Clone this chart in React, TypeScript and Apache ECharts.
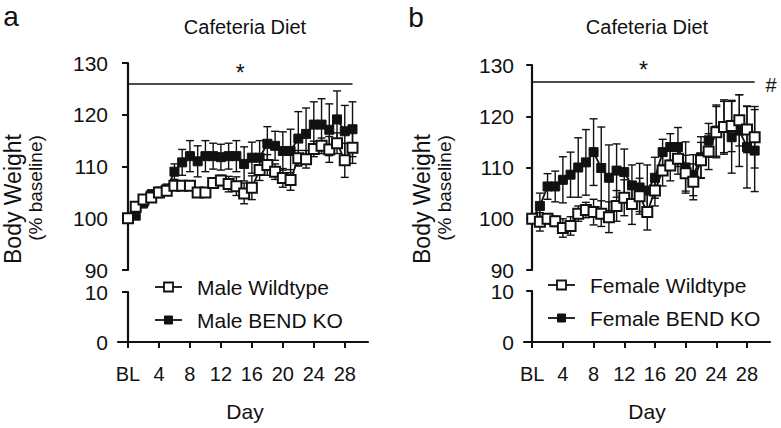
import React, { useEffect, useRef } from "react";
import * as echarts from "echarts";

const DAYS = [0, 1, 2, 3, 4, 5, 6, 7, 8, 9, 10, 11, 12, 13, 14, 15, 16, 17, 18, 19, 20, 21, 22, 23, 24, 25, 26, 27, 28, 29];
const X_TICKS = [0, 4, 8, 12, 16, 20, 24, 28];

const MALE_WT = [100, 102.2, 103.6, 104, 105, 105.3, 106.3, 106.3, 106.3, 105, 105, 106.8, 107.3, 106.6, 106.2, 104.8, 105.9, 109.3, 110.3, 109, 107.8, 107.4, 111.6, 111.4, 113.4, 114, 113.3, 114.5, 111.2, 113.6];
const MALE_WT_ERR = [0, 0.5, 0.8, 0.8, 0.8, 0.6, 0.5, 0.5, 0.5, 0.8, 0.5, 1, 1, 1.5, 1.8, 2, 2.3, 2, 2, 1.5, 1.8, 2, 1.5, 1.7, 1.5, 1.5, 2.5, 2, 3.3, 3];
const MALE_KO = [100, 100.5, 103, 104.5, 105, 105.6, 109, 110.8, 112, 111, 112, 112, 111.8, 112, 112, 110.5, 111.7, 111.7, 114.4, 114, 113, 113, 115.4, 116.3, 118.1, 118.1, 117.1, 119.1, 116.8, 117.2];
const MALE_KO_ERR = [0, 0.5, 1, 1, 1, 1, 1.5, 2.5, 3, 3, 3, 2.5, 2.5, 2.5, 3, 3.3, 3, 3.3, 3.3, 2.8, 3.7, 4.2, 5.2, 5, 4.4, 5, 5, 5.5, 5, 5.3];

const FEMALE_WT = [100, 99.4, 100, 99.5, 98.2, 98.6, 101, 101.7, 101.3, 101, 100.3, 102.5, 104.1, 102.9, 104.4, 101.3, 105.5, 109.4, 110.4, 111.7, 108.9, 107.2, 111.4, 113.1, 116.9, 117.9, 118.1, 119.2, 117.4, 115.9];
const FEMALE_WT_ERR = [0, 1.8, 1, 1, 1.8, 1.8, 1.5, 1.5, 2.5, 2.5, 3, 3, 3.5, 4, 3.5, 3.5, 3, 3, 3, 3, 3.5, 3.5, 3.5, 3.5, 5, 5, 5, 5, 4.5, 6];
const FEMALE_KO = [100, 102.5, 106.3, 106.3, 107.6, 108.6, 110, 111, 113, 109.9, 108, 109.4, 109.1, 106.5, 106.1, 105.5, 108, 113, 114, 114, 110, 108.5, 112, 115.3, 117.2, 117.9, 115.9, 117.2, 114, 113.3];
const FEMALE_KO_ERR = [0, 2.5, 2.5, 3, 4.5, 4.4, 5.8, 6.4, 6.5, 8, 6.4, 5.2, 4.5, 4, 4.7, 5, 4, 2.5, 2.6, 3.8, 5, 4, 4, 3.3, 5, 5.3, 7, 7, 8, 8];

const SIG_LEVEL_A = 125.9;
const SIG_LEVEL_B = 126.8;
const SIG_RANGE = [0, 29];

const FONT = "'Liberation Sans', Arial, Helvetica, sans-serif";
const INK = "#111";

function errData(means: number[], errs: number[]) {
  return DAYS.map((d, i) => [d, means[i] - errs[i], means[i] + errs[i], errs[i]]);
}

function lineData(means: number[]) {
  return DAYS.map((d, i) => [d, means[i]]);
}

const renderErr = (params: any, api: any) => {
  const err = api.value(3);
  if (!err) return null;
  const x = api.value(0);
  const lo = api.coord([x, api.value(1)]);
  const hi = api.coord([x, api.value(2)]);
  const w = 4;
  const style = { stroke: INK, lineWidth: 1.4 };
  return {
    type: "group",
    children: [
      { type: "line", shape: { x1: hi[0], y1: hi[1], x2: lo[0], y2: lo[1] }, style },
      { type: "line", shape: { x1: hi[0] - w, y1: hi[1], x2: hi[0] + w, y2: hi[1] }, style },
      { type: "line", shape: { x1: lo[0] - w, y1: lo[1], x2: lo[0] + w, y2: lo[1] }, style },
    ],
  };
};

export default function App() {
  const ref = useRef<HTMLDivElement>(null);
  useEffect(() => {
    if (!ref.current) return;
    const chart = echarts.init(ref.current, null, { renderer: "svg" });

    const panels = [
      { left: 118, right: 368, min: -1.29, max: 31, topU: 63, topL: 292, sig: SIG_LEVEL_A },
      { left: 524, right: 770, min: -1.07, max: 31, topU: 65, topL: 291, sig: SIG_LEVEL_B },
    ];
    const grids: any[] = [];
    const xAxes: any[] = [];
    const yAxes: any[] = [];
    panels.forEach((p) => {
      grids.push({ left: p.left, width: p.right - p.left, top: p.topU, height: 270 - p.topU });
      grids.push({ left: p.left, width: p.right - p.left, top: p.topL, height: 342 - p.topL });
    });
    const axisLine = { show: true, lineStyle: { color: INK, width: 2.2 } };
    const axisTick = { show: true, length: 6, lineStyle: { color: INK, width: 2 } };
    panels.forEach((p, k) => {
      xAxes.push({
        type: "value", gridIndex: 2 * k, min: p.min, max: p.max, show: false,
      });
      xAxes.push({
        type: "value", gridIndex: 2 * k + 1, min: p.min, max: p.max,
        axisLine, splitLine: { show: false },
        axisTick: { ...axisTick, customValues: X_TICKS },
        axisLabel: {
          customValues: X_TICKS, margin: 22, color: INK, fontSize: 20, fontFamily: FONT,
          formatter: (v: number) => (v === 0 ? "BL" : String(v)),
        },
      });
      yAxes.push({
        type: "value", gridIndex: 2 * k, min: 90, max: 130, interval: 10,
        axisLine, axisTick, splitLine: { show: false },
        axisLabel: { margin: 10, color: INK, fontSize: 21, fontFamily: FONT },
      });
      yAxes.push({
        type: "value", gridIndex: 2 * k + 1, min: 0, max: 10, interval: 10,
        axisLine, axisTick, splitLine: { show: false },
        axisLabel: { margin: 10, color: INK, fontSize: 21, fontFamily: FONT },
      });
    });

    const groups = [
      { panel: 0, ko: MALE_KO, koErr: MALE_KO_ERR, wt: MALE_WT, wtErr: MALE_WT_ERR, koName: "Male BEND KO", wtName: "Male Wildtype" },
      { panel: 1, ko: FEMALE_KO, koErr: FEMALE_KO_ERR, wt: FEMALE_WT, wtErr: FEMALE_WT_ERR, koName: "Female BEND KO", wtName: "Female Wildtype" },
    ];
    const series: any[] = [];
    groups.forEach((g) => {
      const ax = { xAxisIndex: 2 * g.panel, yAxisIndex: 2 * g.panel };
      series.push({
        type: "custom", name: g.koName + " SEM", ...ax, renderItem: renderErr,
        data: errData(g.ko, g.koErr), encode: { x: 0, y: [1, 2] }, z: 2,
      });
      series.push({
        type: "line", name: g.koName, ...ax, data: lineData(g.ko), symbol: "rect", symbolSize: 9,
        showAllSymbol: true, lineStyle: { color: INK, width: 1.8 },
        itemStyle: { color: INK, borderColor: INK, borderWidth: 1 }, z: 3,
        markLine: {
          silent: true, symbol: ["none", "none"],
          lineStyle: { color: INK, width: 1.6, type: "solid" },
          label: { show: true, position: "middle", formatter: "*", fontSize: 23, color: INK, fontFamily: FONT, distance: 0 },
          data: [[{ coord: [SIG_RANGE[0], panels[g.panel].sig] }, { coord: [SIG_RANGE[1], panels[g.panel].sig] }]],
        },
      });
      series.push({
        type: "custom", name: g.wtName + " SEM", ...ax, renderItem: renderErr,
        data: errData(g.wt, g.wtErr), encode: { x: 0, y: [1, 2] }, z: 4,
      });
      series.push({
        type: "line", name: g.wtName, ...ax, data: lineData(g.wt), symbol: "rect", symbolSize: 10,
        showAllSymbol: true, lineStyle: { color: INK, width: 1.8 },
        itemStyle: { color: "#fff", borderColor: INK, borderWidth: 2 }, z: 5,
      });
    });

    const txt = (x: number, y: number, text: string, fontSize: number, extra: any = {}, align = "center") => ({
      type: "text", x, y, ...extra,
      style: { text, fontSize, fill: INK, fontFamily: FONT, align, verticalAlign: "middle" },
    });

    const legendEntry = (x: number, y: number, label: string, filled: boolean) => ({
      type: "group",
      children: [
        { type: "line", shape: { x1: x, y1: y, x2: x + 27, y2: y }, style: { stroke: INK, lineWidth: 1.8 } },
        {
          type: "rect", shape: { x: x + 13.5 - (filled ? 4 : 4.5), y: y - (filled ? 4 : 4.5), width: filled ? 8 : 9, height: filled ? 8 : 9 },
          style: { fill: filled ? INK : "#fff", stroke: INK, lineWidth: filled ? 1 : 1.8 },
        },
        txt(x + 42, y, label, 21, {}, "left"),
      ],
    });

    chart.setOption({
      animation: false,
      backgroundColor: "#fff",
      grid: grids,
      xAxis: xAxes,
      yAxis: yAxes,
      series,
      graphic: [
        txt(11, 16, "a", 28),
        txt(416, 17, "b", 28),
        txt(245, 27, "Cafeteria Diet", 20),
        txt(647, 27, "Cafeteria Diet", 20),
        txt(771, 85, "#", 20),
        txt(13, 199, "Body Weight", 23, { rotation: Math.PI / 2 }),
        txt(35, 188, "(% baseline)", 19, { rotation: Math.PI / 2 }),
        txt(422, 199, "Body Weight", 23, { rotation: Math.PI / 2 }),
        txt(444, 188, "(% baseline)", 19, { rotation: Math.PI / 2 }),
        txt(245, 411, "Day", 21),
        txt(647, 411, "Day", 21),
        legendEntry(155, 287, "Male Wildtype", false),
        legendEntry(155, 320, "Male BEND KO", true),
        legendEntry(548, 285, "Female Wildtype", false),
        legendEntry(548, 318, "Female BEND KO", true),
      ],
    });
    return () => chart.dispose();
  }, []);
  return <div ref={ref} style={{ width: 781, height: 428, position: "absolute", left: 0, top: 0 }} />;
}
